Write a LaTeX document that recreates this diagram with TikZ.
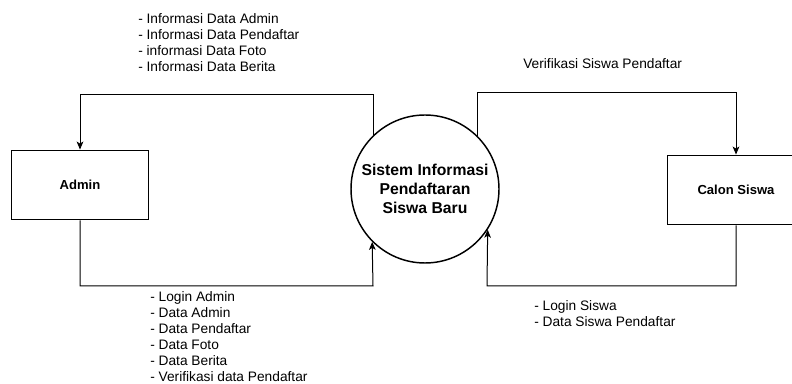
\documentclass[tikz,border=0pt]{standalone}
\usepackage{fontspec}
\setmainfont{Liberation Sans}
\usetikzlibrary{arrows.meta, positioning}

\tikzset{
  entity/.style={draw, line width=1.4pt, minimum width=102.75pt, minimum height=51.75pt, font=\fontsize{9.8}{12}\selectfont\bfseries},
  process/.style={draw, circle, line width=1.1pt, minimum size=111pt, align=center, font=\fontsize{11.8}{14.2}\selectfont\bfseries},
  flow/.style={draw, line width=0.75pt, -{Stealth[length=6pt, width=5pt, inset=1.5pt]}},
  flowtext/.style={anchor=west, align=left, font=\fontsize{10.3}{12}\selectfont}
}

\begin{document}
\begin{tikzpicture}[x=0.75pt, y=-0.75pt, every node/.style={inner sep=0pt}]
  \useasboundingbox (0,0) rectangle (792,384);

  % entitas dan proses
  \node[entity] (admin) at (80,185) {Admin};
  \node[process] (sis) at (425,189) {Sistem Informasi\\Pendaftaran\\Siswa Baru};
  \node[entity] (calon) at (736,190) {Calon Siswa};

  % titik belok
  \coordinate (topL) at (80,95);
  \coordinate (topR) at (736,93);
  \coordinate (botL) at (373,286);
  \coordinate (botR) at (487,286);

  % aliran data
  \draw[flow] (sis.134.6) |- (topL) -- (admin.north);
  \draw[flow] (sis.45.4) |- (topR) -- (calon.north);
  \draw[flow] (admin.south) |- (botL) -- (sis.225.4);
  \draw[flow] (calon.south) |- (botR) -- (sis.327);

  % keterangan
  \node[flowtext] (infoadmin) at (138,43) {- Informasi Data Admin\\- Informasi Data Pendaftar\\- informasi Data Foto\\- Informasi Data Berita};
  \node[flowtext] (loginadmin) at (150,337) {- Login Admin\\- Data Admin\\- Data Pendaftar\\- Data Foto\\- Data Berita\\- Verifikasi data Pendaftar};
  \node[flowtext] (verifsiswa) at (523,64) {Verifikasi Siswa Pendaftar};
  \node[flowtext] (loginsiswa) at (534,314) {- Login Siswa\\- Data Siswa Pendaftar};
\end{tikzpicture}
\end{document}
